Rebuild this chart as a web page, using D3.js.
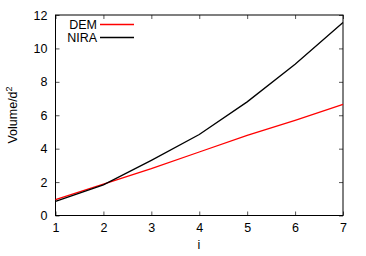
<!DOCTYPE html>
<html><head><meta charset="utf-8">
<script src="https://cdn.jsdelivr.net/npm/d3@7"></script>
<style>body{margin:0;background:#fff;} text{font-family:"Liberation Sans",Arial,sans-serif;fill:#000;}</style>
</head><body><svg id="c" width="366" height="256"></svg>
<script>
const iValues = [1,2,3,4,5,6,7];
const demValues = [0.95,1.88,2.8,3.8,4.8,5.7,6.65];
const niraValues = [0.85,1.83,3.3,4.85,6.8,9.05,11.55];
const xTicks = [1,2,3,4,5,6,7];
const yTicks = [0,2,4,6,8,10,12];
const seriesNames = ["DEM","NIRA"];
const seriesColors = ["#ff0000","#000000"];

const svg = d3.select("#c");
const m = {l:55.5,r:343,t:15,b:215.5};
const x = d3.scaleLinear().domain([1,7]).range([m.l,m.r]);
const y = d3.scaleLinear().domain([0,12]).range([m.b,m.t]);
const fs = 12.5;

const gx = svg.append("g").attr("transform",`translate(0,${m.b})`)
  .call(d3.axisBottom(x).tickValues(xTicks).tickSize(-4).tickPadding(8).tickFormat(d3.format("d")));
const gxt = svg.append("g").attr("transform",`translate(0,${m.t})`)
  .call(d3.axisTop(x).tickValues(xTicks).tickSize(-4).tickFormat(""));
const gy = svg.append("g").attr("transform",`translate(${m.l},0)`)
  .call(d3.axisLeft(y).tickValues(yTicks).tickSize(-4).tickPadding(8).tickFormat(d3.format("d")));
const gyr = svg.append("g").attr("transform",`translate(${m.r},0)`)
  .call(d3.axisRight(y).tickValues(yTicks).tickSize(-4).tickFormat(""));
[gx,gxt,gy,gyr].forEach(g=>{
  g.select(".domain").remove();
  g.selectAll(".tick line").attr("stroke","#555");
  g.selectAll("text").attr("font-size",fs).attr("font-family","Liberation Sans, Arial, sans-serif").attr("fill","#000");
});
svg.append("rect").attr("x",m.l).attr("y",m.t).attr("width",m.r-m.l).attr("height",m.b-m.t)
  .attr("fill","none").attr("stroke","#000").attr("stroke-width",1);

const line = d3.line().x((d,i)=>x(iValues[i])).y(d=>y(d));
[demValues,niraValues].forEach((vals,k)=>{
  svg.append("path").datum(vals).attr("d",line).attr("fill","none")
    .attr("stroke",seriesColors[k]).attr("stroke-width",1.3);
});

seriesNames.forEach((n,k)=>{
  const yy = 24.5 + k*13;
  svg.append("text").attr("x",97).attr("y",yy).attr("dy","0.35em").attr("text-anchor","end")
    .attr("font-size",fs).attr("fill","#000").text(n);
  svg.append("line").attr("x1",100).attr("x2",134).attr("y1",yy).attr("y2",yy)
    .attr("stroke",seriesColors[k]).attr("stroke-width",1.3);
});

svg.append("text").attr("x",199).attr("y",249).attr("text-anchor","middle").attr("font-size",fs).attr("fill","#000").text("i");
const yl = svg.append("text").attr("transform","translate(17,115) rotate(-90)").attr("text-anchor","middle").attr("font-size",fs).attr("fill","#000");
yl.append("tspan").text("Volume/d");
yl.append("tspan").attr("font-size",9).attr("dy",-5).text("2");
</script></body></html>
